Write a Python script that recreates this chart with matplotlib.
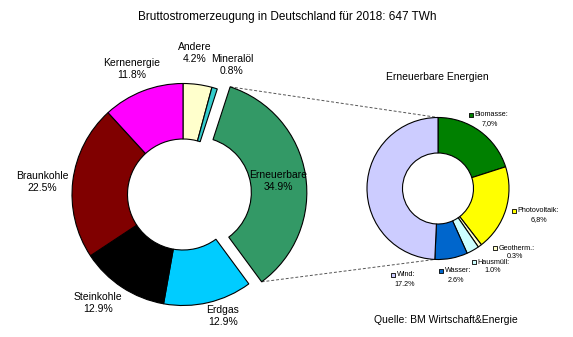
import numpy as np
import matplotlib.pyplot as plt

plt.rcParams['font.family'] = ['Liberation Sans', 'DejaVu Sans']

# main chart data (share of gross electricity generation 2018, %)
main_labels = ["Andere", "Mineralöl", "Erneuerbare", "Erdgas", "Steinkohle", "Braunkohle", "Kernenergie"]
main_values = [4.2, 0.8, 34.9, 12.9, 12.9, 22.5, 11.8]
main_text = ["4.2%", "0.8%", "34.9%", "12.9%", "12.9%", "22.5%", "11.8%"]
main_colors = ["#FFFFCC", "#33CCCC", "#339966", "#00CCFF", "#000000", "#800000", "#FF00FF"]

# renewables breakdown (%)
ren_labels = ["Biomasse:", "Photovoltaik:", "Geotherm.:", "Hausmüll:", "Wasser:", "Wind:"]
ren_values = [7.0, 6.8, 0.3, 1.0, 2.6, 17.2]
ren_text = ["7,0%", "6,8%", "0.3%", "1.0%", "2.6%", "17.2%"]
ren_colors = ["#008000", "#FFFF00", "#FFFFCC", "#CCFFFF", "#0066CC", "#CCCCFF"]

W, H = 573, 337
fig = plt.figure(figsize=(W / 100, H / 100), dpi=100)
ax = fig.add_axes([0, 0, 1, 1])

def Y(y):
    # image row -> data y
    return H - y

edge = dict(edgecolor="black", linewidth=0.8)

main_c = (183, Y(194.5))
main_r = 111
# pie's explode is an absolute offset in data units here
explode = [13 if l == "Erneuerbare" else 0 for l in main_labels]
wedges, _ = ax.pie(main_values, colors=main_colors, startangle=90, counterclock=False,
                   radius=main_r, center=main_c, explode=explode,
                   wedgeprops=dict(width=main_r * 0.5, **edge))

ren_c = (438, Y(188.5))
ren_r = 71
rwedges, _ = ax.pie(ren_values, colors=ren_colors, startangle=90, counterclock=False,
                    radius=ren_r, center=ren_c,
                    wedgeprops=dict(width=ren_r * 0.5, **edge))

# connector lines from exploded wedge to second donut
ew = wedges[main_labels.index("Erneuerbare")]
cx, cy = ew.center
def pt(c, r, a):
    return c[0] + r * np.cos(np.radians(a)), c[1] + r * np.sin(np.radians(a))
p_top = pt((cx, cy), ew.r, ew.theta2)
p_bot = pt((cx, cy), ew.r, ew.theta1)
q_top = pt(ren_c, ren_r, rwedges[0].theta2)
q_bot = pt(ren_c, ren_r, rwedges[-1].theta2)
for p, q in [(p_top, q_top), (p_bot, q_bot)]:
    ax.plot([p[0], q[0]], [p[1], q[1]], ls=(0, (3, 2)), color="#555555", lw=0.7, zorder=0)

# main labels (positions in image pixels)
main_pos = [(195, 53), (232, 65), (278, 181), (223, 316), (98, 303), (42, 182), (132, 69)]
for lab, txt, (x, y) in zip(main_labels, main_text, main_pos):
    ax.text(x, Y(y), lab + "\n" + txt, ha="center", va="center", fontsize=7.5, linespacing=1.25)

# renewables labels with colour squares
ren_pos = [(471, 115), (514, 211), (495, 248), (474, 262), (441, 271), (393, 275)]
for lab, txt, col, (x, y) in zip(ren_labels, ren_text, ren_colors, ren_pos):
    ax.scatter([x], [Y(y)], marker="s", s=12, color=col, edgecolor="black", linewidth=0.6, zorder=5)
    ax.text(x + 3.5, Y(y), lab, ha="left", va="center", fontsize=5.2)
    ax.text(x + 4 + len(lab) * 1.6, Y(y + 9), txt, ha="center", va="center", fontsize=5.2)

ax.text(287, Y(17), "Bruttostromerzeugung in Deutschland für 2018: 647 TWh",
        ha="center", va="center", fontsize=8.5)
ax.text(437, Y(77), "Erneuerbare Energien", ha="center", va="center", fontsize=7.5)
ax.text(446, Y(320), "Quelle: BM Wirtschaft&Energie", ha="center", va="center", fontsize=7.5)

ax.set_xlim(0, W)
ax.set_ylim(0, H)
ax.set_aspect("equal")
ax.axis("off")
fig.savefig("out.png", dpi=100)
